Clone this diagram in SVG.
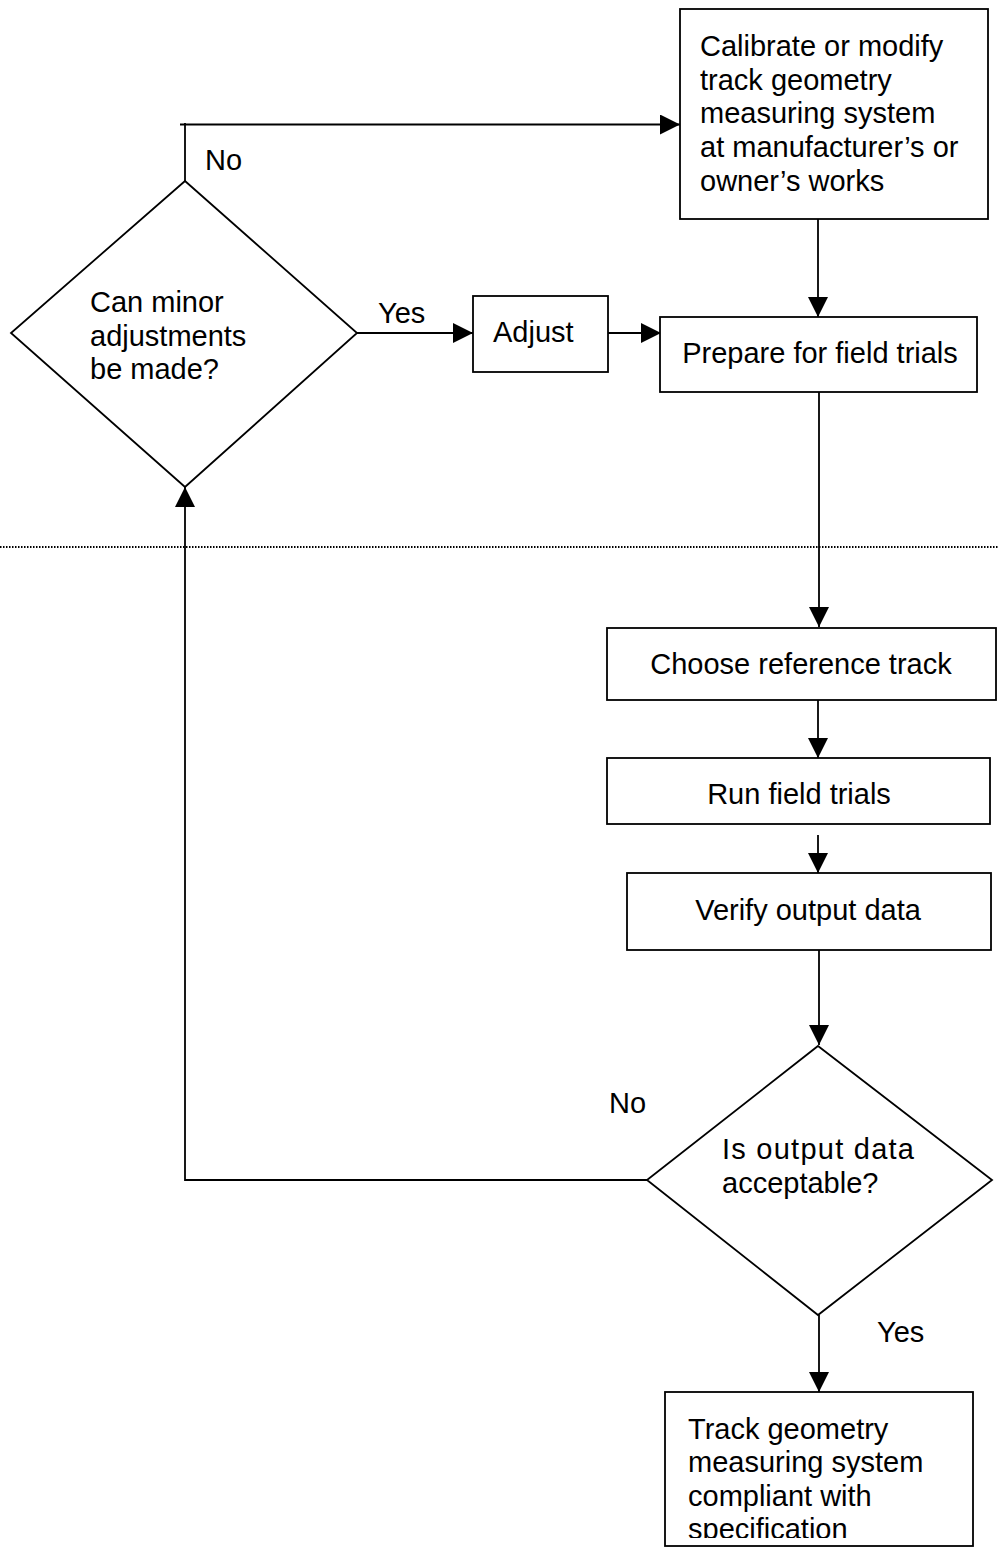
<svg xmlns="http://www.w3.org/2000/svg" width="998" height="1548" viewBox="0 0 998 1548">
<style>
.box{fill:#fff;stroke:#000;stroke-width:1.8}
.ln{fill:none;stroke:#000;stroke-width:1.8}
.t{font-family:"Liberation Sans",Arial,sans-serif;font-size:29px;fill:#000}
.c{text-anchor:middle}
</style>
<defs>
<marker id="ah" markerUnits="userSpaceOnUse" markerWidth="20" markerHeight="20" refX="20" refY="10" orient="auto">
<path d="M0,0 L20,10 L0,20 Z" fill="#000"/>
</marker>
<clipPath id="clipFinal"><rect x="665" y="1392" width="308" height="146"/></clipPath>
</defs>
<rect width="998" height="1548" fill="#fff"/>
<g id="connectors">
<line class="ln" x1="0" y1="547" x2="998" y2="547" stroke-dasharray="1.5,1.5" stroke-width="1.5"/>
<polyline class="ln" points="185,181 185,123"/>
<line class="ln" x1="180" y1="124.5" x2="680" y2="124.5" marker-end="url(#ah)"/>
<line class="ln" x1="818" y1="219" x2="818" y2="317" marker-end="url(#ah)"/>
<line class="ln" x1="357" y1="333" x2="473" y2="333" marker-end="url(#ah)"/>
<line class="ln" x1="608" y1="333" x2="661" y2="333" marker-end="url(#ah)"/>
<line class="ln" x1="819" y1="392" x2="819" y2="627" marker-end="url(#ah)"/>
<line class="ln" x1="818" y1="700" x2="818" y2="758" marker-end="url(#ah)"/>
<line class="ln" x1="818" y1="835" x2="818" y2="873" marker-end="url(#ah)"/>
<line class="ln" x1="819" y1="950" x2="819" y2="1045" marker-end="url(#ah)"/>
<polyline class="ln" points="647,1180 185,1180 185,487" marker-end="url(#ah)"/>
<line class="ln" x1="819" y1="1315" x2="819" y2="1392" marker-end="url(#ah)"/>
<text class="t" x="205" y="170">No</text>
<text class="t" x="378" y="323">Yes</text>
<text class="t" x="609" y="1113">No</text>
<text class="t" x="877" y="1342">Yes</text>
</g>
<g id="calibrate">
<rect class="box" x="680" y="9" width="308" height="210"/>
<text class="t" x="700" y="56">Calibrate or modify</text>
<text class="t" x="700" y="90">track geometry</text>
<text class="t" x="700" y="123">measuring system</text>
<text class="t" x="700" y="157">at manufacturer’s or</text>
<text class="t" x="700" y="191">owner’s works</text>
</g>
<g id="minor-adjust">
<polygon class="box" points="185,181 357,333 185,487 11,333"/>
<text class="t" x="90" y="312">Can minor</text>
<text class="t" x="90" y="346">adjustments</text>
<text class="t" x="90" y="379">be made?</text>
</g>
<g id="adjust">
<rect class="box" x="473" y="296" width="135" height="76"/>
<text class="t" x="493" y="342">Adjust</text>
</g>
<g id="prepare">
<rect class="box" x="660" y="317" width="317" height="75"/>
<text class="t c" x="820" y="363">Prepare for field trials</text>
</g>
<g id="choose">
<rect class="box" x="607" y="628" width="389" height="72"/>
<text class="t c" x="801" y="674">Choose reference track</text>
</g>
<g id="run">
<rect class="box" x="607" y="758" width="383" height="66"/>
<text class="t c" x="799" y="804">Run field trials</text>
</g>
<g id="verify">
<rect class="box" x="627" y="873" width="364" height="77"/>
<text class="t c" x="808" y="920">Verify output data</text>
</g>
<g id="acceptable">
<polygon class="box" points="818,1046 992,1180 818,1315 647,1180"/>
<text class="t" x="722" y="1159" textLength="192" lengthAdjust="spacing">Is output data</text>
<text class="t" x="722" y="1193">acceptable?</text>
</g>
<g id="compliant">
<rect class="box" x="665" y="1392" width="308" height="154"/>
<g clip-path="url(#clipFinal)">
<text class="t" x="688" y="1439">Track geometry</text>
<text class="t" x="688" y="1472">measuring system</text>
<text class="t" x="688" y="1506">compliant with</text>
<text class="t" x="688" y="1539">specification</text>
</g>
</g>
</svg>
